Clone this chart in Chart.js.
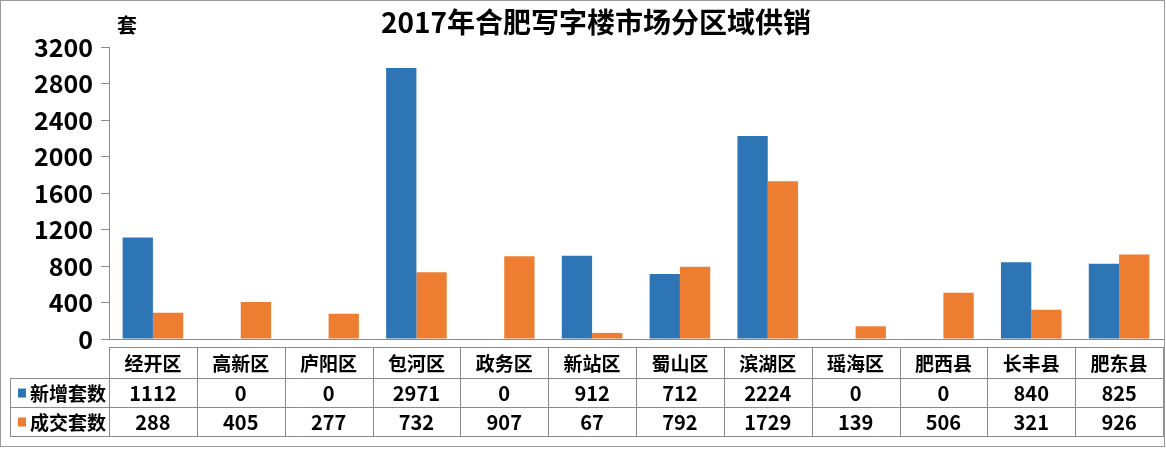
<!DOCTYPE html>
<html><head><meta charset="utf-8">
<script src="https://cdn.jsdelivr.net/npm/chart.js@4/dist/chart.umd.min.js"></script>
<style>html,body{margin:0;padding:0;background:#fff;}canvas{display:block;}</style>
</head><body>
<canvas id="c" width="1166" height="450"></canvas>
<script>
const titleText = '2017年合肥写字楼市场分区域供销';
const unitLabel = '套';
const categories = ['经开区','高新区','庐阳区','包河区','政务区','新站区','蜀山区','滨湖区','瑶海区','肥西县','长丰县','肥东县'];
const seriesNames = ['新增套数','成交套数'];
const newUnits = [1112,0,0,2971,0,912,712,2224,0,0,840,825];
const soldUnits = [288,405,277,732,907,67,792,1729,139,506,321,926];
const yMin = 0, yMax = 3200, yStep = 400;

const FONT = '"Noto Sans CJK SC","Noto Sans",sans-serif';
const BLUE = '#2E75B6', ORANGE = '#ED7D31', LINE = '#8a8a8a';

const tablePlugin = {
  id: 'tablePlugin',
  afterDraw(chart) {
    const ctx = chart.ctx, xs = chart.scales.x, ca = chart.chartArea;
    const n = categories.length;
    const centers = categories.map((_, i) => xs.getPixelForValue(i));
    const bounds = [ca.left];
    for (let i = 1; i < n; i++) bounds.push((centers[i-1] + centers[i]) / 2);
    bounds.push(ca.right);
    const rTop = 347, r1 = 378, r2 = 407, rBot = 436, legLeft = 10;
    ctx.save();
    ctx.strokeStyle = LINE; ctx.lineWidth = 1;
    const hl = (x1, x2, y) => { ctx.beginPath(); ctx.moveTo(x1, y + 0.5); ctx.lineTo(x2, y + 0.5); ctx.stroke(); };
    const vl = (x, y1, y2) => { ctx.beginPath(); ctx.moveTo(Math.round(x) + 0.5, y1); ctx.lineTo(Math.round(x) + 0.5, y2); ctx.stroke(); };
    hl(ca.left, ca.right, rTop);
    hl(legLeft, ca.right, r1);
    hl(legLeft, ca.right, r2);
    hl(legLeft, ca.right, rBot);
    bounds.forEach(b => vl(b, rTop, rBot + 1));
    vl(legLeft, r1, rBot + 1);
    ctx.fillStyle = '#000';
    ctx.textAlign = 'center'; ctx.textBaseline = 'middle';
    ctx.font = 'bold 19px ' + FONT;
    categories.forEach((c, i) => ctx.fillText(c, centers[i], (rTop + r1) / 2 + 1));
    ctx.font = 'bold 20px ' + FONT;
    newUnits.forEach((v, i) => ctx.fillText(String(v), centers[i], (r1 + r2) / 2 + 1));
    soldUnits.forEach((v, i) => ctx.fillText(String(v), centers[i], (r2 + rBot) / 2 + 1));
    const rows = [[r1, r2], [r2, rBot]];
    const colors = [BLUE, ORANGE];
    ctx.font = 'bold 19px ' + FONT; ctx.textAlign = 'left';
    seriesNames.forEach((s, k) => {
      const ym = (rows[k][0] + rows[k][1]) / 2;
      ctx.fillStyle = colors[k];
      ctx.fillRect(18, ym - 4, 8, 9);
      ctx.fillStyle = '#000';
      ctx.fillText(s, 30, ym + 1);
    });
    ctx.textAlign = 'center';
    ctx.font = 'bold 28px ' + FONT;
    ctx.fillText(titleText, 596, 22);
    ctx.font = 'bold 20px ' + FONT;
    ctx.fillText(unitLabel, 127, 25);
    ctx.strokeStyle = '#999';
    ctx.strokeRect(0.5, 0.5, 1164, 446);
    ctx.restore();
  }
};

new Chart(document.getElementById('c'), {
  type: 'bar',
  data: {
    labels: categories,
    datasets: [
      { label: seriesNames[0], data: newUnits, backgroundColor: BLUE, borderWidth: 0 },
      { label: seriesNames[1], data: soldUnits, backgroundColor: ORANGE, borderWidth: 0 }
    ]
  },
  options: {
    responsive: false,
    animation: false,
    devicePixelRatio: 1,
    layout: { padding: { top: 47, right: 3, bottom: 111, left: 0 } },
    plugins: { legend: { display: false }, title: { display: false }, tooltip: { enabled: false } },
    datasets: { bar: { categoryPercentage: 0.69, barPercentage: 1 } },
    scales: {
      x: {
        ticks: { display: false },
        grid: { display: false },
        border: { display: true, color: LINE, width: 1 },
        afterFit(s) { s.height = 0; }
      },
      y: {
        min: yMin, max: yMax,
        ticks: { stepSize: yStep, color: '#000', padding: 8, font: { family: FONT, size: 25, weight: 'bold' }, callback: v => String(v) },
        grid: { drawOnChartArea: false, drawTicks: true, tickLength: 8, color: LINE },
        border: { display: true, color: LINE, width: 1 },
        afterFit(s) { s.width = 109; }
      }
    }
  },
  plugins: [tablePlugin]
});
</script>
</body></html>
